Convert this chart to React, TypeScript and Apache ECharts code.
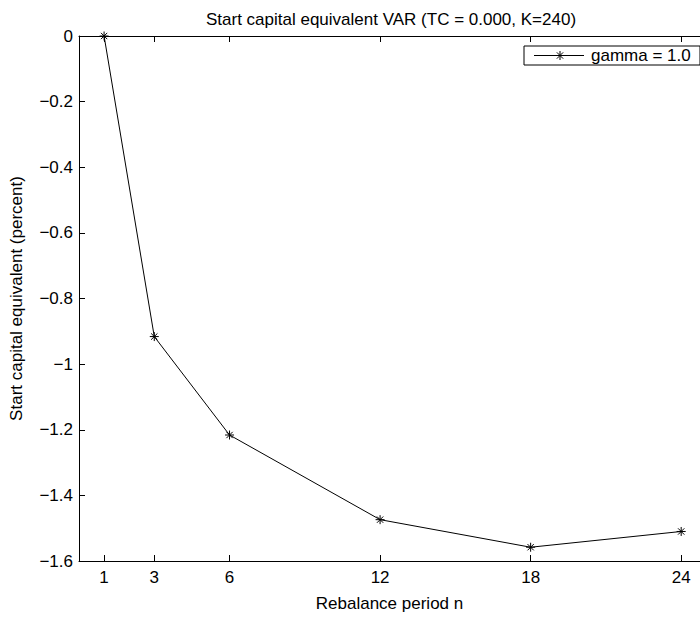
import React, { useEffect, useRef } from "react";
import * as echarts from "echarts";

const titleText = "Start capital equivalent VAR (TC = 0.000, K=240)";
const xName = "Rebalance period n";
const yName = "Start capital equivalent (percent)";
const seriesName = "gamma = 1.0";
const periods = [1, 3, 6, 12, 18, 24];
const values = [0, -0.916, -1.216, -1.474, -1.558, -1.51];
const xTicks = [1, 3, 6, 12, 18, 24];

const FONT = "'Liberation Sans', Arial, Helvetica, sans-serif";
const FS = 17;
const STAR = "path://M0,-1L0,1M-1,0L1,0M-0.7,-0.7L0.7,0.7M-0.7,0.7L0.7,-0.7";

function fmtY(v: number): string {
  const r = Math.round(v * 10) / 10;
  if (r === 0) return "0";
  return String(r).replace("-", "\u2212");
}

export default function App() {
  const ref = useRef<HTMLDivElement>(null);
  useEffect(() => {
    document.body.style.margin = "0";
    const chart = echarts.init(ref.current!, null, { renderer: "svg" });
    const L = 74, T = 36, H = 533;
    const xMax = 24.75; // visible part of the axes box (right edge cropped)
    const data = periods.map((p, i) => [p, values[i]]);
    const legX = 524, legY = 46, legW = 176, legH = 19;
    const sx = 560, sy = legY + legH / 2, r = 4.5;
    chart.setOption({
      animation: false,
      backgroundColor: "#fff",
      textStyle: { fontFamily: FONT },
      grid: { left: L, top: T, right: 0, height: H, containLabel: false },
      xAxis: [
        {
          type: "value", min: 0, max: xMax, position: "bottom",
          name: xName, nameLocation: "middle", nameGap: 34,
          nameTextStyle: { color: "#000", fontSize: FS, fontFamily: FONT },
          axisLine: { onZero: false, lineStyle: { color: "#000", width: 1 } },
          axisTick: { inside: true, length: 6, customValues: xTicks, lineStyle: { color: "#000" } },
          axisLabel: { customValues: xTicks, color: "#000", fontSize: FS, fontFamily: FONT, margin: 8 },
          splitLine: { show: false },
        },
        {
          type: "value", min: 0, max: xMax, position: "top",
          axisLine: { onZero: false, lineStyle: { color: "#000", width: 1 } },
          axisTick: { inside: true, length: 6, customValues: xTicks, lineStyle: { color: "#000" } },
          axisLabel: { show: false },
          splitLine: { show: false },
        },
      ],
      yAxis: [
        {
          type: "value", min: -1.6, max: 0, interval: 0.2, position: "left",
          name: yName, nameLocation: "middle", nameGap: 54, nameRotate: 90,
          nameTextStyle: { color: "#000", fontSize: FS, fontFamily: FONT },
          axisLine: { onZero: false, lineStyle: { color: "#000", width: 1 } },
          axisTick: { inside: true, length: 6, lineStyle: { color: "#000" } },
          axisLabel: { color: "#000", fontSize: FS, fontFamily: FONT, margin: 6, formatter: fmtY },
          splitLine: { show: false },
        },
      ],
      series: [
        {
          type: "line", name: seriesName, data,
          xAxisIndex: 0, yAxisIndex: 0,
          symbol: STAR, symbolSize: 9, showAllSymbol: true,
          lineStyle: { color: "#000", width: 1 },
          itemStyle: { color: "#000", borderColor: "#000", borderWidth: 1 },
          clip: false,
        },
      ],
      graphic: [
        {
          type: "text", x: 391, y: 19,
          style: { text: titleText, fill: "#000", font: `${FS}px ${FONT}`, align: "center", verticalAlign: "middle" },
        },
        {
          type: "rect", shape: { x: legX, y: legY, width: legW, height: legH },
          style: { fill: "#fff", stroke: "#000", lineWidth: 1 },
        },
        { type: "line", shape: { x1: 534, y1: sy, x2: 584, y2: sy }, style: { stroke: "#000", lineWidth: 1 } },
        { type: "line", shape: { x1: sx, y1: sy - r, x2: sx, y2: sy + r }, style: { stroke: "#000", lineWidth: 1 } },
        { type: "line", shape: { x1: sx - r, y1: sy, x2: sx + r, y2: sy }, style: { stroke: "#000", lineWidth: 1 } },
        { type: "line", shape: { x1: sx - r * 0.7, y1: sy - r * 0.7, x2: sx + r * 0.7, y2: sy + r * 0.7 }, style: { stroke: "#000", lineWidth: 1 } },
        { type: "line", shape: { x1: sx - r * 0.7, y1: sy + r * 0.7, x2: sx + r * 0.7, y2: sy - r * 0.7 }, style: { stroke: "#000", lineWidth: 1 } },
        {
          type: "text", x: 591, y: sy,
          style: { text: seriesName, fill: "#000", font: `${FS}px ${FONT}`, align: "left", verticalAlign: "middle" },
        },
      ],
    });
    return () => chart.dispose();
  }, []);
  return <div ref={ref} style={{ width: 700, height: 617 }} />;
}
